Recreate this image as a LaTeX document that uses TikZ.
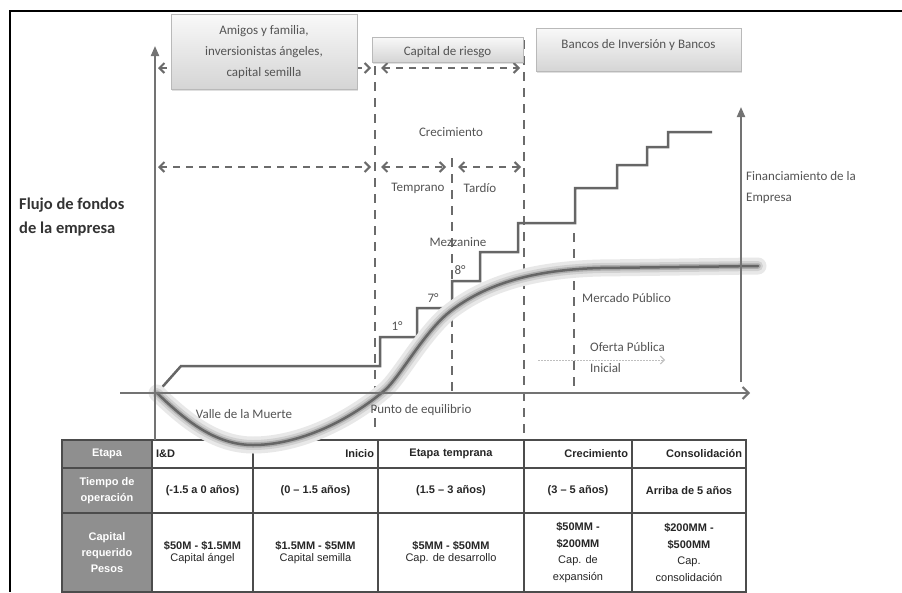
\documentclass[tikz,border=0pt]{standalone}
\usepackage{fontspec}
\setmainfont{Carlito}
\newfontfamily\arialf{Liberation Sans}
\usetikzlibrary{arrows.meta,shadows}
\definecolor{ln}{gray}{0.45}
\definecolor{dl}{gray}{0.42}
\definecolor{txt}{gray}{0.33}
\definecolor{tb}{gray}{0.30}
\definecolor{lab}{gray}{0.56}
\definecolor{gl1}{gray}{0.91}
\definecolor{gl2}{gray}{0.82}
\definecolor{gl3}{gray}{0.68}
\definecolor{crv}{gray}{0.40}
\begin{document}
\begin{tikzpicture}[x=1pt,y=-1pt,
  topbox/.style={draw=gray!55, line width=0.8, top color=gray!5, bottom color=gray!33,
     drop shadow={shadow xshift=1pt, shadow yshift=-1.5pt, opacity=0.25}, inner sep=0pt},
  boxtext/.style={font=\fontsize{13}{21}\selectfont, text=txt, align=center, inner sep=0pt},
  lbl/.style={font=\fontsize{13}{15}\selectfont, text=txt, inner sep=0pt},
  dasharr/.style={draw=dl, line width=2, dash pattern=on 7pt off 6pt,
     {Straight Barb[length=5pt,width=10pt,line width=2pt]}-{Straight Barb[length=5pt,width=10pt,line width=2pt]}},
  vdash/.style={draw=dl, line width=2, dash pattern=on 9pt off 7pt},
  axis/.style={draw=ln, line width=2},
  cell/.style={draw=tb, line width=1.3, inner sep=3pt, font=\arialf\fontsize{11}{12.5}\selectfont\bfseries, text=black!85},
  labcell/.style={cell, fill=lab, text=white, align=center, font=\arialf\fontsize{11}{16}\selectfont\bfseries},
]
\useasboundingbox (0,0) rectangle (902,592);
\fill[white] (0,0) rectangle (902,592);
% frame
\coordinate (fTL) at (10,11);
\coordinate (fTR) at (902,11);
\coordinate (fBL) at (10,592);
\draw[line width=2.5, black] (fTR) -- (fTL) -- (fBL);

% ---------- table ----------
\node[labcell, minimum width=90, minimum height=28] (l1) at (107,454) {Etapa};
\node[labcell, minimum width=90, minimum height=45] (l2) at (107,490.5) {Tiempo de\\operación};
\node[labcell, minimum width=90, minimum height=79] (l3) at (107,552.5) {Capital\\requerido\\Pesos};

\node[cell, minimum width=101, minimum height=28, text width=93, align=left] (h1) at (202.5,454) {I\&D};
\node[cell, minimum width=125, minimum height=28, text width=117, align=right] (h2) at (315.5,454) {Inicio};
\node[cell, minimum width=146, minimum height=28, text width=138, align=center] (h3) at (451,454) {Etapa temprana};
\node[cell, minimum width=108, minimum height=28, text width=100, align=right] (h4) at (578,454) {Crecimiento};
\node[cell, minimum width=114, minimum height=28, text width=106, align=right] (h5) at (689,454) {Consolidación};

\node[cell, minimum width=101, minimum height=45, align=center] (m1) at (202.5,490.5) {(-1.5 a 0 años)};
\node[cell, minimum width=125, minimum height=45, align=center] (m2) at (315.5,490.5) {(0 – 1.5 años)};
\node[cell, minimum width=146, minimum height=45, align=center] (m3) at (451,490.5) {(1.5 – 3 años)};
\node[cell, minimum width=108, minimum height=45, align=center] (m4) at (578,490.5) {(3 – 5 años)};
\node[cell, minimum width=114, minimum height=45, align=center] (m5) at (689,490.5) {Arriba de 5 años};

\node[cell, minimum width=101, minimum height=79, align=center] (c1) at (202.5,552.5) {\$50M - \$1.5MM\\{\mdseries Capital ángel}};
\node[cell, minimum width=125, minimum height=79, align=center] (c2) at (315.5,552.5) {\$1.5MM - \$5MM\\{\mdseries Capital semilla}};
\node[cell, minimum width=146, minimum height=79, align=center] (c3) at (451,552.5) {\$5MM - \$50MM\\{\mdseries Cap. de desarrollo}};
\node[cell, minimum width=108, minimum height=79, align=center, font=\arialf\fontsize{11}{16.5}\selectfont\bfseries] (c4) at (578,552.5) {\$50MM -\\\$200MM\\{\mdseries Cap. de}\\{\mdseries expansión}};
\node[cell, minimum width=114, minimum height=79, align=center, font=\arialf\fontsize{11}{16.5}\selectfont\bfseries] (c5) at (689,552.5) {\$200MM -\\\$500MM\\{\mdseries Cap.}\\{\mdseries consolidación}};

% ---------- dashed verticals ----------
\coordinate (v1t) at (375,66);  \coordinate (v1b) at (375,428);
\coordinate (v2t) at (452,158); \coordinate (v2b) at (452,393);
\coordinate (v3t) at (524,40);  \coordinate (v3b) at (524,440);
\coordinate (v4t) at (574,233); \coordinate (v4b) at (574,393);
\draw[vdash] (v1t) -- (v1b);
\draw[vdash] (v2t) -- (v2b);
\draw[vdash] (v3t) -- (v3b);
\draw[vdash] (v4t) -- (v4b);

% ---------- dashed horizontal arrows ----------
\coordinate (a1l) at (158,68);  \coordinate (a1r) at (371,68);
\coordinate (a2l) at (381,68);  \coordinate (a2r) at (520,68);
\coordinate (a3l) at (158,167); \coordinate (a3r) at (371,167);
\coordinate (a4l) at (381,167); \coordinate (a4r) at (446,167);
\coordinate (a5l) at (458,167); \coordinate (a5r) at (521,167);
\draw[dasharr] (a1l) -- (a1r);
\draw[dasharr] (a2l) -- (a2r);
\draw[dasharr] (a3l) -- (a3r);
\draw[dasharr] (a4l) -- (a4r);
\draw[dasharr] (a5l) -- (a5r);

% ---------- staircase ----------
\draw[draw=gray!80!black, line width=2.5, line join=miter]
  (157,393) -- (181,366) -- (380,366) -- (380,337) -- (417,337) -- (417,308)
  -- (452,308) -- (452,281) -- (480,281) -- (480,252) -- (518,252) -- (518,223)
  -- (575,223) -- (575,188) -- (617,188) -- (617,165) -- (647,165) -- (647,147)
  -- (668,147) -- (668,132) -- (712,132);

% ---------- S curve with glow ----------
\def\scurve{(157,393) .. controls (185,420) and (215,445) .. (253,445)
  .. controls (300,445) and (350,420) .. (385,390)
  .. controls (400,377) and (425,330) .. (452,310)
  .. controls (479,290) and (520,270) .. (600,268) -- (758,266)}
\draw[gl1, line width=17, line cap=round] \scurve;
\draw[gl2, line width=10, line cap=round] \scurve;
\draw[gl3, line width=5.5, line cap=round] \scurve;
\draw[crv, line width=2.5, line cap=round] \scurve;

% ---------- axes ----------
\coordinate (yaxB) at (155,440); \coordinate (yaxT) at (155,46);
\coordinate (xaxL) at (120,393); \coordinate (xaxR) at (750,393);
\coordinate (raxB) at (741,382); \coordinate (raxT) at (741,107);
\draw[axis, -{Triangle[length=10pt,width=8pt]}] (yaxB) -- (yaxT);
\draw[axis, -{Straight Barb[length=6pt,width=12pt,line width=2pt]}] (xaxL) -- (xaxR);
\draw[axis, -{Triangle[length=10pt,width=8pt]}] (raxB) -- (raxT);

% dotted arrow
\coordinate (opl) at (538,360); \coordinate (opr) at (665,360);
\draw[draw=gray!50, line width=1, dash pattern=on 1.5pt off 1.5pt, -{Straight Barb[length=4pt,width=8pt,line width=1pt]}] (opl) -- (opr);

% ---------- top boxes ----------
\node[topbox, minimum width=186, minimum height=75] (b1) at (264,51.5) {};
\node[boxtext] (t1) at (264,52) {Amigos y familia,\\inversionistas ángeles,\\capital semilla};
\node[topbox, minimum width=151, minimum height=25] (b2) at (447.5,49.5) {};
\node[boxtext] (t2) at (447.5,52) {Capital de riesgo};
\node[topbox, minimum width=205, minimum height=43] (b3) at (638.5,49.5) {};
\node[boxtext] (t3) at (638.5,45) {Bancos de Inversión y Bancos};

% ---------- labels ----------
\node[lbl, font=\fontsize{16.5}{24}\selectfont\bfseries, text=black!80, align=left, anchor=west] (flujo) at (19,217) {Flujo de fondos\\de la empresa};
\node[lbl, align=left, anchor=west, font=\fontsize{13}{21}\selectfont] (fin) at (746,187.5) {Financiamiento de la\\Empresa};
\node[lbl] (crec) at (451,132) {Crecimiento};
\node[lbl] (temp) at (418,188) {Temprano};
\node[lbl] (tard) at (480,188) {Tardío};
\node[lbl] (mezz) at (458,242) {Mezzanine};
\node[lbl] (s8) at (460,270) {8°};
\node[lbl] (s7) at (433,298) {7°};
\node[lbl] (s1) at (397,326) {1°};
\node[lbl] (valle) at (244,414) {Valle de la Muerte};
\node[lbl] (punto) at (421,410) {Punto de equilibrio};
\node[lbl, anchor=west] (merc) at (582,298) {Mercado Público};
\node[lbl, anchor=west, align=left, font=\fontsize{13}{21}\selectfont] (ofer) at (590,357.5) {Oferta Pública\\Inicial};
\end{tikzpicture}
\end{document}
